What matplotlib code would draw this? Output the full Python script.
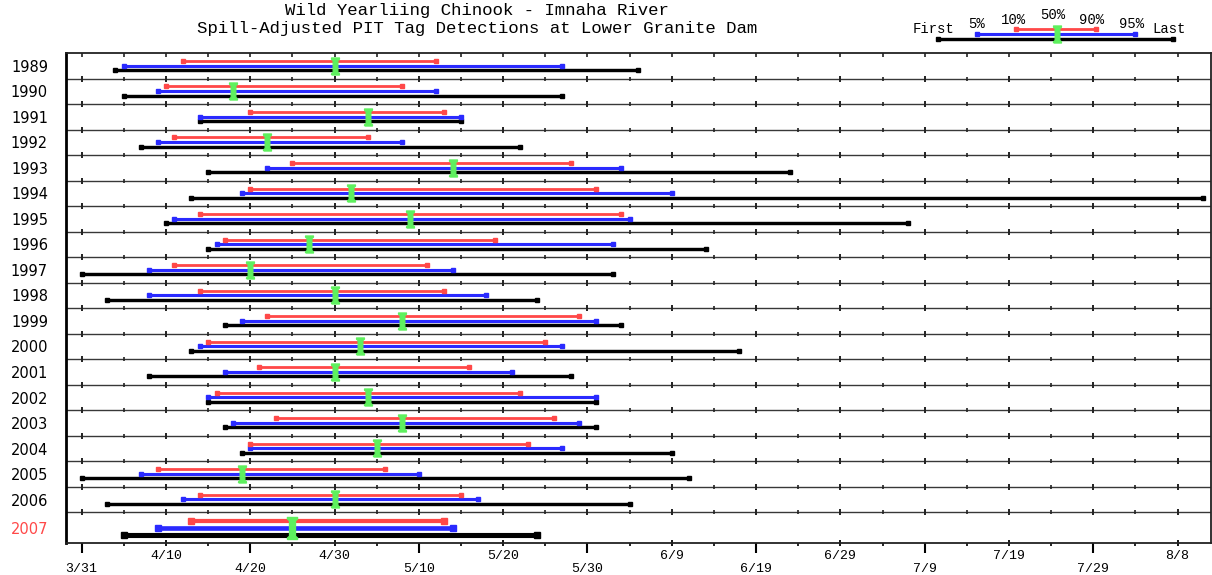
import datetime as dt
import matplotlib
matplotlib.use('Agg')
import matplotlib.pyplot as plt
from matplotlib.path import Path

# passage dates at Lower Granite Dam, one entry per year
years = ['1989', '1990', '1991', '1992', '1993', '1994', '1995', '1996', '1997', '1998',
         '1999', '2000', '2001', '2002', '2003', '2004', '2005', '2006', '2007']
first = ['4/4', '4/5', '4/14', '4/7', '4/15', '4/13', '4/10', '4/15', '3/31', '4/3',
         '4/17', '4/13', '4/8', '4/15', '4/17', '4/19', '3/31', '4/3', '4/5']
p05 = ['4/5', '4/9', '4/14', '4/9', '4/22', '4/19', '4/11', '4/16', '4/8', '4/8',
       '4/19', '4/14', '4/17', '4/15', '4/18', '4/20', '4/7', '4/12', '4/9']
p10 = ['4/12', '4/10', '4/20', '4/11', '4/25', '4/20', '4/14', '4/17', '4/11', '4/14',
       '4/22', '4/15', '4/21', '4/16', '4/23', '4/20', '4/9', '4/14', '4/13']
p50 = ['4/30', '4/18', '5/4', '4/22', '5/14', '5/2', '5/9', '4/27', '4/20', '4/30',
       '5/8', '5/3', '4/30', '5/4', '5/8', '5/5', '4/19', '4/30', '4/25']
p90 = ['5/12', '5/8', '5/13', '5/4', '5/28', '5/31', '6/3', '5/19', '5/11', '5/13',
       '5/29', '5/25', '5/16', '5/22', '5/26', '5/23', '5/6', '5/15', '5/13']
p95 = ['5/27', '5/12', '5/15', '5/8', '6/3', '6/9', '6/4', '6/2', '5/14', '5/18',
       '5/31', '5/27', '5/21', '5/31', '5/29', '5/27', '5/10', '5/17', '5/14']
last = ['6/5', '5/27', '5/15', '5/22', '6/23', '8/11', '7/7', '6/13', '6/2', '5/24',
        '6/3', '6/17', '5/28', '5/31', '5/31', '6/9', '6/11', '6/4', '5/24']

tick_labels = ['3/31', '4/10', '4/20', '4/30', '5/10', '5/20', '5/30',
               '6/9', '6/19', '6/29', '7/9', '7/19', '7/29', '8/8']

BASE = dt.date(2007, 3, 31)


def day(s):
    m, d = map(int, s.split('/'))
    return (dt.date(2007, m, d) - BASE).days


RED = '#ff4848'
BLUE = '#2a2aff'
GREEN = '#5ef05e'
BLACK = 'black'
MONO = 'Liberation Mono'

# I-beam marker for the median
ibeam = Path([(-0.46, -1), (0.46, -1), (0.46, -0.86), (0.27, -0.7), (0.27, 0.7),
              (0.46, 0.86), (0.46, 1), (-0.46, 1), (-0.46, 0.86), (-0.27, 0.7),
              (-0.27, -0.7), (-0.46, -0.86), (-0.46, -1)])

PX = 0.72  # points per pixel at dpi 100


def draw_set(ax, ys, vals, big=False):
    f, a, b, m, c, d, l = vals
    yr, yb, yk, yg = ys
    k = 1.5 if big else 1.0
    ms = (6.5 if big else 5.0) * PX
    ax.plot([f, l], [yk, yk], color=BLACK, lw=3.4 * k * PX, marker='s', ms=ms,
            solid_capstyle='butt', zorder=3, clip_on=False)
    ax.plot([a, d], [yb, yb], color=BLUE, lw=3.1 * k * PX, marker='s', ms=ms,
            solid_capstyle='butt', zorder=4, clip_on=False)
    ax.plot([b, c], [yr, yr], color=RED, lw=2.8 * k * PX, marker='s', ms=ms,
            solid_capstyle='butt', zorder=5, clip_on=False)
    ax.plot([m], [yg], ls='none', marker=ibeam, ms=(22 if big else 17) * PX,
            color=GREEN, mec=GREEN, zorder=6, clip_on=False)


fig = plt.figure(figsize=(12.12, 5.75), dpi=100)
W, H = 1212, 575
ax = fig.add_axes([66 / W, 32 / H, 1145 / W, 490 / H])
ax.set_xlim(-1.86, 133.96)
n = len(years)
ax.set_ylim(n - 1 + 1.2, 0)

for i in range(n):
    vals = [day(first[i]), day(p05[i]), day(p10[i]), day(p50[i]),
            day(p90[i]), day(p95[i]), day(last[i])]
    if i == n - 1:
        draw_set(ax, (i + 0.35, i + 0.61, i + 0.875, i + 0.6), vals, big=True)
    else:
        draw_set(ax, (i + 0.31, i + 0.49, i + 0.67, i + 0.49), vals)

# row separators with their little tick marks
tick_pos = [day(t) for t in tick_labels]
half_pos = [p + 5 for p in tick_pos[:-1]]
for y in range(1, n):
    ax.axhline(y, color='#383838', lw=1.0, zorder=1)
    ax.plot(tick_pos, [y] * len(tick_pos), ls='none', marker='|', ms=5.5 * PX,
            mew=1.4, color='#222222', zorder=2)
    ax.plot(half_pos, [y] * len(half_pos), ls='none', marker='|', ms=3.5 * PX,
            mew=1.2, color='#222222', zorder=2)
# ticks hanging from the top frame
ax.plot(tick_pos + half_pos, [0] * (len(tick_pos) + len(half_pos)), ls='none',
        marker=3, ms=4 * PX, mew=1.2, color='#222222', zorder=2, clip_on=False)

# bottom axis: labels alternate between two heights
ax.set_xticks(tick_pos[0::2], tick_labels[0::2])
ax.set_xticks(half_pos, minor=True)
ax.tick_params(axis='x', which='major', direction='out', length=10 * PX, width=1.5,
               pad=7, labelsize=9.5)
ax.tick_params(axis='x', which='minor', direction='out', length=3 * PX, width=1.2)
sec = ax.secondary_xaxis('bottom')
sec.set_xticks(tick_pos[1::2], tick_labels[1::2])
sec.tick_params(axis='x', direction='inout', length=6 * PX, width=1.3, pad=3.2,
                labelsize=9.5)
sec.spines['bottom'].set_visible(False)
for lab in ax.get_xticklabels() + sec.get_xticklabels():
    lab.set_family(MONO)

centers = [i + 0.5 for i in range(n - 1)] + [n - 1 + 0.6]
ax.set_yticks(centers, years)
ax.tick_params(axis='y', length=0, pad=13, labelsize=10.5)
ax.get_yticklabels()[-1].set_color(RED)

for side in ['top', 'right', 'bottom']:
    ax.spines[side].set_linewidth(1.3)
    ax.spines[side].set_color('#222222')
ax.spines['left'].set_linewidth(2)

# overlay in pixel coordinates for the title and the key
ov = fig.add_axes([0, 0, 1, 1])
ov.set_xlim(0, W)
ov.set_ylim(H, 0)
ov.axis('off')
ov.text(477, 11, 'Wild Yearliing Chinook - Imnaha River', ha='center', va='center',
        family=MONO, fontsize=12.5)
ov.text(477, 29, 'Spill-Adjusted PIT Tag Detections at Lower Granite Dam',
        ha='center', va='center', family=MONO, fontsize=12.5)

key_x = [938, 977, 1016, 1057, 1096, 1135, 1173]
draw_set(ov, (29.3, 34, 39, 34), key_x)
key_names = ['First', '5%', '10%', '50%', '90%', '95%', 'Last']
key_lx = [934, 977, 1014, 1053, 1092, 1132, 1169]
key_ly = [29, 24, 20, 15, 20, 24, 29]
for name, lx, ly in zip(key_names, key_lx, key_ly):
    ov.text(lx, ly, name, ha='center', va='center', family=MONO, fontsize=10,
            zorder=10)

fig.savefig('out.png', dpi=100)
